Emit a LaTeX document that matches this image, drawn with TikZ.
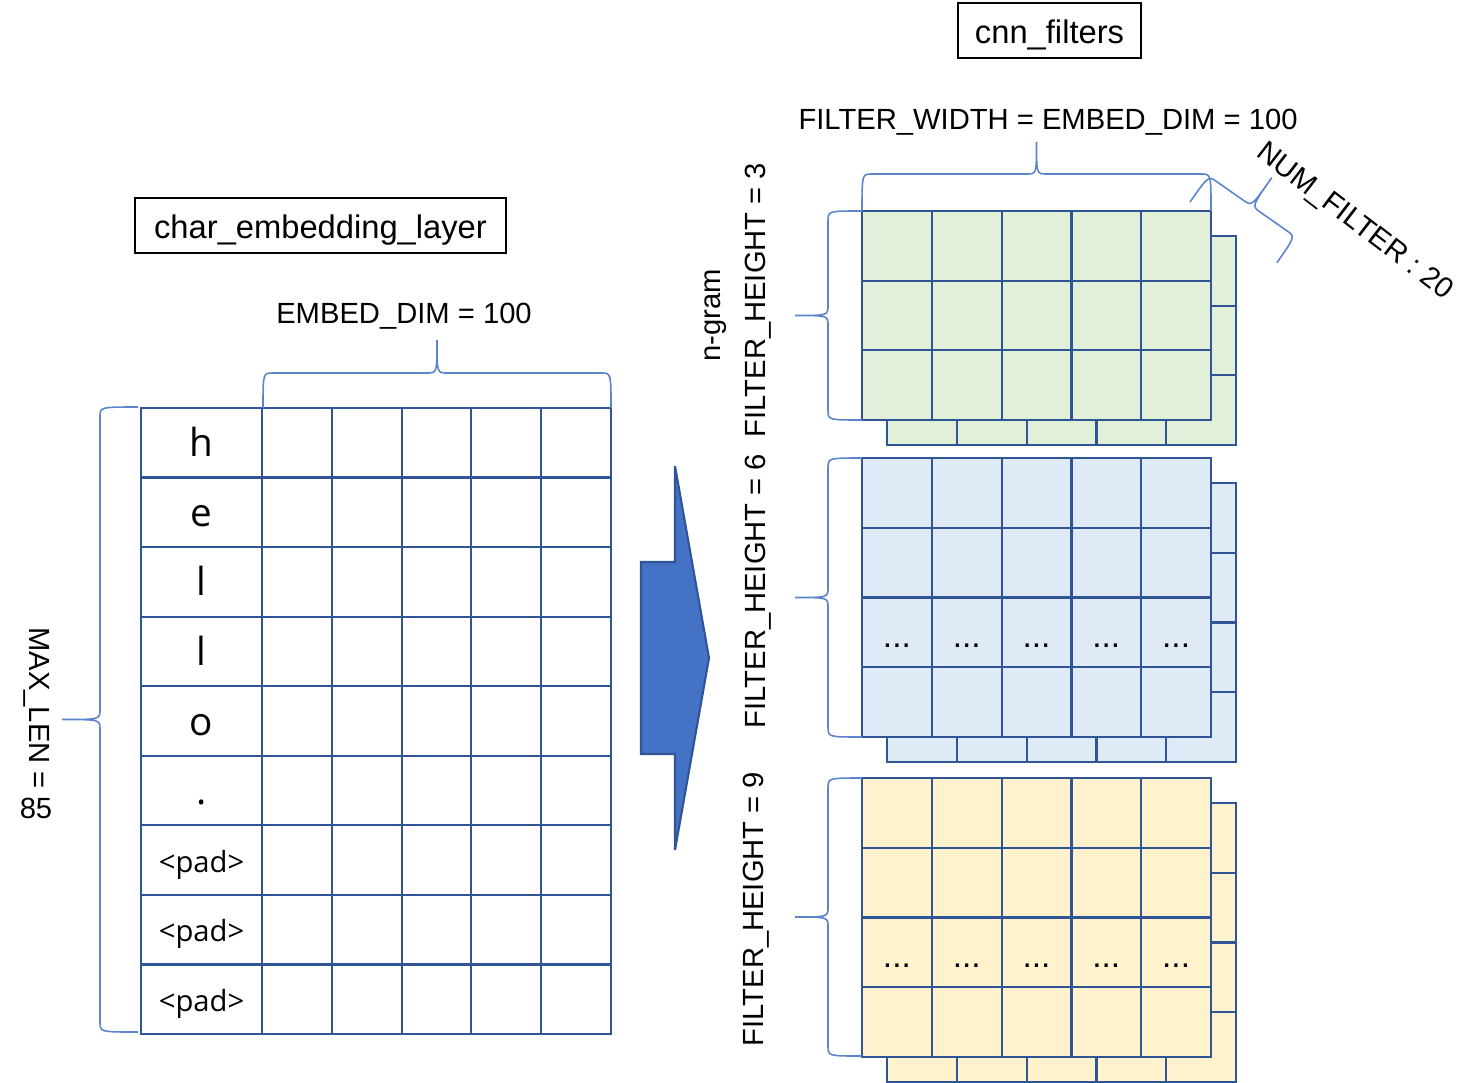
\documentclass[tikz,border=0pt]{standalone}
\usepackage{fontspec}
\setmainfont{Liberation Sans}
\newfontfamily\cellfont{Open Sans}
\usepackage{tikz}

\definecolor{gridblue}{HTML}{2F5597}
\definecolor{cellgreen}{HTML}{E2F0D9}
\definecolor{cellblue}{HTML}{DEEBF7}
\definecolor{cellyellow}{HTML}{FFF2CC}
\definecolor{bracecol}{HTML}{5B84CC}
\definecolor{arrowfill}{HTML}{4472C4}

% curly brace along local x: options, length, spine offset, tip offset
\newcommand{\curly}[4]{%
  \draw[bracebl, #1] (0,0) .. controls (0,-#3) .. (10,-#3)
    -- ({#2/2-10},-#3) .. controls ({#2/2},-#3) .. ({#2/2},-#4)
    .. controls ({#2/2},-#3) .. ({#2/2+10},-#3)
    -- ({#2-10},-#3) .. controls (#2,-#3) .. (#2,0);}

\begin{document}
\begin{tikzpicture}[
  x=0.01cm, y=-0.01cm,
  cell/.style={draw=gridblue, line width=0.62pt},
  bracebl/.style={draw=bracecol, line width=0.45pt},
  title/.style={draw, line width=0.5pt, inner sep=0pt, minimum height=0.55cm, text height=0.26cm, text depth=0pt, font=\fontsize{9.3}{11}\selectfont},
  dim/.style={inner sep=0pt, font=\fontsize{8.3}{10}\selectfont},
  letter/.style={inner sep=0pt, text height=0.28cm, text depth=0pt, font=\cellfont\fontsize{11}{13}\selectfont},
  padtext/.style={inner sep=0pt, text height=0.24cm, text depth=0pt, font=\cellfont\fontsize{8.3}{10}\selectfont},
  dots/.style={inner sep=0pt, anchor=base, font=\fontsize{9.5}{11}\selectfont},
  bigarrow/.style={fill=arrowfill, draw=gridblue, line width=0.6pt, line join=miter}
]
\useasboundingbox (0,0) rectangle (1480,1082);

% titles
\node[title, minimum width=3.71cm] (embedtitle) at (320.5,225.5) {char\_embedding\_layer};
\node[title, minimum width=1.83cm] (filtertitle) at (1049.5,30.5) {cnn\_filters};

% embedding table
\draw[cell] (141,408) rectangle (611,1034);
\foreach \x in {262,332,402,471,541}
  \draw[cell] (\x,408) -- (\x,1034);
\foreach \i in {1,...,8}
  \draw[cell] (141,{408+69.56*\i}) -- (611,{408+69.56*\i});
\foreach \t [count=\i from 0] in {h,e,l,l,o,.}
  \node[letter] (char\i) at (201.5,{408+69.56*(\i+0.5)}) {\t};
\foreach \i in {6,7,8}
  \node[padtext] (char\i) at (201.5,{408+69.56*(\i+0.5)}) {<pad>};

% filters (back copy first, then front)
\foreach \yt/\nr/\fc in {211/3/cellgreen, 458/4/cellblue, 778/4/cellyellow} {
  \foreach \dx in {25,0} {
    \draw[cell, fill=\fc] ({862+\dx},{\yt+\dx}) rectangle ++(349,{\nr*69.7});
    \foreach \c in {1,...,4}
      \draw[cell] ({862+\dx+\c*69.8},{\yt+\dx}) -- ++(0,{\nr*69.7});
    \foreach \r in {1,...,\nr}
      \draw[cell] ({862+\dx},{\yt+\dx+\r*69.7}) -- ++(349,0);
  }
}
\foreach \c in {0,...,4} {
  \node[dots] (dotsb\c) at ({896.9+\c*69.8},647) {...};
  \node[dots] (dotsc\c) at ({896.9+\c*69.8},967) {...};
}

% arrow
\draw[bigarrow] (675,466) -- (709,658) -- (675,850) -- (675,754) -- (641,754)
  -- (641,562) -- (675,562) -- cycle;

% braces
\curly{shift={(263,408)}}{348}{35}{68}
\curly{shift={(862,211)}}{349}{37}{69}
\curly{shift={(138,1032)}, rotate=90}{625}{38}{76}
\curly{shift={(862,420)}, rotate=90}{209}{34}{67}
\curly{shift={(862,737)}, rotate=90}{279}{34}{67}
\curly{shift={(862,1056)}, rotate=90}{278}{34}{67}
\curly{shift={(1190,202)}, rotate=-35}{106}{32}{67}

% labels
\node[dim] (embeddim) at (404,316) {EMBED\_DIM = 100};
\node[dim] (filterwidth) at (1048,122) {FILTER\_WIDTH = EMBED\_DIM = 100};
\node[dim, rotate=-37.5] (numfilter) at (1354,222) {NUM\_FILTER : 20};
\node[dim, rotate=-90] (maxlen) at (37,708) {MAX\_LEN =};
\node[dim] (maxval) at (36,808) {85};
\node[dim, rotate=90] (ngram) at (716,315) {n-gram};
\node[dim, rotate=90] (height3) at (758,300) {FILTER\_HEIGHT = 3};
\node[dim, rotate=90] (height6) at (758,591) {FILTER\_HEIGHT = 6};
\node[dim, rotate=90] (height9) at (756,909) {FILTER\_HEIGHT = 9};
\end{tikzpicture}
\end{document}
